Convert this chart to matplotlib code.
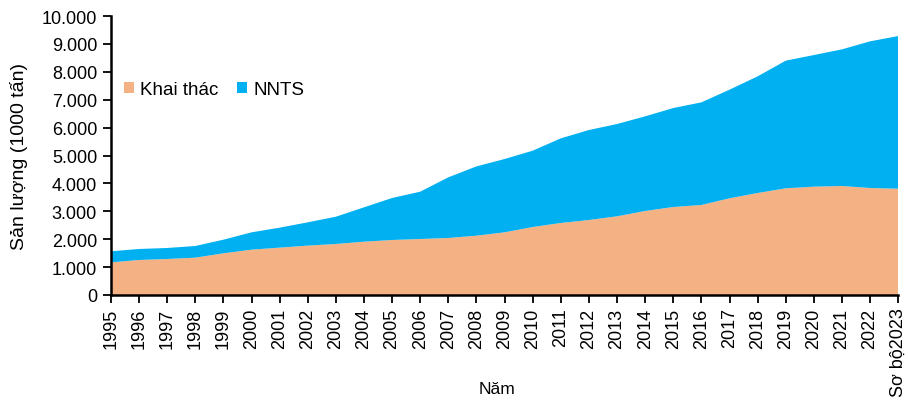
import matplotlib.pyplot as plt
from matplotlib.ticker import FuncFormatter

plt.rcParams['font.family'] = ['Liberation Sans', 'DejaVu Sans']

years = [str(y) for y in range(1995, 2023)] + ["Sơ bộ2023"]
khai_thac = [1170, 1254, 1290, 1338, 1494, 1624, 1697, 1769, 1828, 1911,
             1971, 2007, 2043, 2126, 2246, 2437, 2581, 2688, 2820, 3011,
             3154, 3226, 3466, 3656, 3824, 3883, 3907, 3835, 3810]
tong = [1566, 1649, 1685, 1756, 1982, 2246, 2413, 2605, 2806, 3143,
        3477, 3703, 4218, 4610, 4875, 5173, 5616, 5914, 6129, 6404,
        6702, 6906, 7360, 7838, 8400, 8602, 8806, 9093, 9283]
nnts = [t - k for t, k in zip(tong, khai_thac)]

fig = plt.figure(figsize=(9.08, 4.06), dpi=100)
ax = fig.add_axes([0.1222, 0.271, 0.867, 0.687])

x = list(range(len(years)))
ax.stackplot(x, khai_thac, nnts, colors=['#F4B183', '#00B0F0'],
             labels=['Khai thác', 'NNTS'])

ax.set_xlim(0, len(years) - 1)
ax.set_ylim(0, 10000)
ax.set_yticks(range(0, 10001, 1000))
ax.yaxis.set_major_formatter(FuncFormatter(lambda v, p: f"{int(v):,}".replace(",", ".")))
ax.set_xticks(x)
ax.set_xticklabels(years, rotation=90, fontsize=13)
ax.tick_params(axis='y', labelsize=13, pad=4)
ax.tick_params(axis='x', pad=3)
ax.tick_params(direction='out', length=6, width=1.3, colors='black')

for s in ['top', 'right']:
    ax.spines[s].set_visible(False)
for s in ['left', 'bottom']:
    ax.spines[s].set_linewidth(1.8)

ax.set_xlabel("Năm", fontsize=12.5)
ax.xaxis.set_label_coords(0.49, -0.31)
ax.set_ylabel("Sản lượng (1000 tấn)", fontsize=14, labelpad=10)

ax.legend(loc='center left', bbox_to_anchor=(0.0, 0.735), ncol=2, frameon=False,
          fontsize=13.5, handlelength=0.55, handleheight=0.55, columnspacing=1.0,
          handletextpad=0.3, borderaxespad=0.3)

fig.savefig("out.png", dpi=100)
